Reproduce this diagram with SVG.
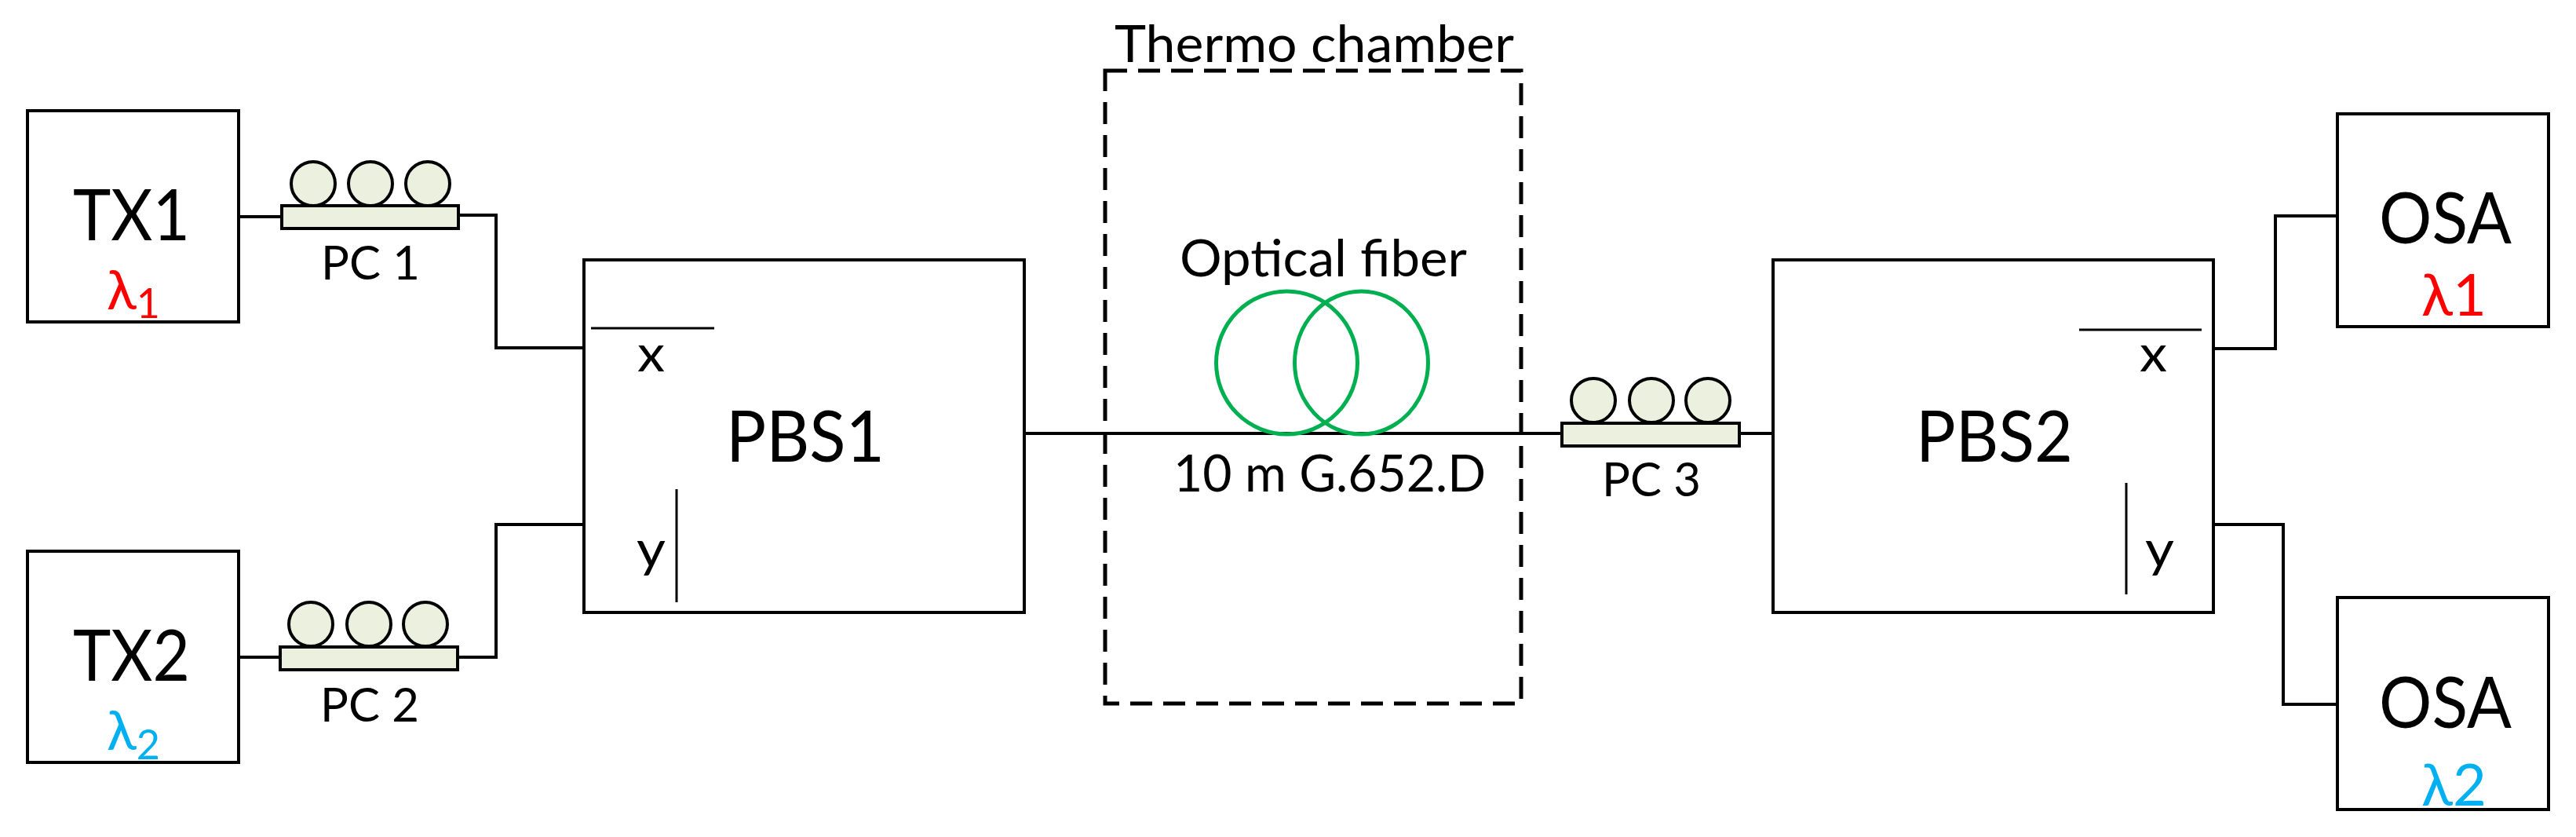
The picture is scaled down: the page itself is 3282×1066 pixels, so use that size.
<svg xmlns="http://www.w3.org/2000/svg" width="3282" height="1066" viewBox="0 0 3282 1066">
<style>
.box{fill:#fff;stroke:#000;stroke-width:4}
.pc{fill:#EBF1DE;stroke:#000;stroke-width:4}
.wire{fill:none;stroke:#000;stroke-width:4}
.thin{fill:none;stroke:#000;stroke-width:3}
.fib{fill:none;stroke:#00B050;stroke-width:5}
text{font-family:"Lato","Open Sans","Noto Sans",sans-serif;fill:#000}
.xl{font-size:92px}
.md{font-size:65px}
.sm{font-size:60px}
.lam{font-size:70px}
.lam2{font-size:74px}
.red{fill:#FF0000}
.blue{fill:#00B0F0}
</style>
<rect width="3282" height="1066" fill="#fff"/>
<g id="connectors">
<path class="wire" d="M304 276H359"/>
<path class="wire" d="M584 274H632V443H744"/>
<path class="wire" d="M304 837H357"/>
<path class="wire" d="M583 837H632V668H744"/>
<path class="wire" d="M1305 552H1990"/>
<path class="wire" d="M2216 552H2259"/>
<path class="wire" d="M2820 444H2899V275H2978"/>
<path class="wire" d="M2820 668H2909V897H2978"/>
</g>
<g id="tx1"><rect class="box" x="35" y="141" width="269" height="269"/>
<text class="xl" x="93" y="306" textLength="149" lengthAdjust="spacingAndGlyphs">TX1</text>
<text class="lam red" x="136" y="394">λ<tspan font-size="52" dy="11">1</tspan></text></g>
<g id="tx2"><rect class="box" x="35" y="702" width="269" height="269"/>
<text class="xl" x="93" y="867" textLength="149" lengthAdjust="spacingAndGlyphs">TX2</text>
<text class="lam blue" x="136" y="955">λ<tspan font-size="52" dy="12">2</tspan></text></g>
<g id="pc1">
<ellipse class="pc" cx="399" cy="234" rx="28" ry="28"/><ellipse class="pc" cx="472" cy="234" rx="28" ry="28"/><ellipse class="pc" cx="545" cy="234" rx="28" ry="28"/>
<rect class="pc" x="359" y="262" width="225" height="29"/>
<text class="sm" x="409" y="356" textLength="126" lengthAdjust="spacingAndGlyphs">PC 1</text></g>
<g id="pc2">
<ellipse class="pc" cx="396" cy="795" rx="28" ry="28"/><ellipse class="pc" cx="470" cy="795" rx="28" ry="28"/><ellipse class="pc" cx="542" cy="795" rx="28" ry="28"/>
<rect class="pc" x="357" y="824" width="226" height="29"/>
<text class="sm" x="408" y="919" textLength="126" lengthAdjust="spacingAndGlyphs">PC 2</text></g>
<g id="pbs1"><rect class="box" x="744" y="331" width="561" height="449"/>
<path class="thin" d="M753 418H910M862 623V767"/>
<text class="md" x="812" y="473" textLength="35" lengthAdjust="spacingAndGlyphs">x</text>
<text class="md" x="811" y="722" textLength="37" lengthAdjust="spacingAndGlyphs">y</text>
<text class="xl" x="925" y="588" textLength="202" lengthAdjust="spacingAndGlyphs">PBS1</text></g>
<g id="thermo"><rect x="1408" y="90" width="530" height="806" fill="none" stroke="#000" stroke-width="5" stroke-dasharray="28 14"/>
<text class="md" x="1420" y="79" textLength="509" lengthAdjust="spacingAndGlyphs">Thermo chamber</text></g>
<g id="fiber">
<ellipse class="fib" cx="1639.5" cy="462" rx="90" ry="91"/>
<ellipse class="fib" cx="1734.5" cy="462" rx="85" ry="91"/>
<text class="md" x="1503" y="352" textLength="366" lengthAdjust="spacingAndGlyphs">Optical fiber</text>
<text class="md" x="1495" y="626" textLength="398" lengthAdjust="spacingAndGlyphs">10 m G.652.D</text></g>
<g id="pc3">
<ellipse class="pc" cx="2030" cy="510" rx="28" ry="28"/><ellipse class="pc" cx="2104" cy="510" rx="28" ry="28"/><ellipse class="pc" cx="2176" cy="510" rx="28" ry="28"/>
<rect class="pc" x="1990" y="539" width="226" height="29"/>
<text class="sm" x="2041" y="632" textLength="126" lengthAdjust="spacingAndGlyphs">PC 3</text></g>
<g id="pbs2"><rect class="box" x="2259" y="331" width="561" height="449"/>
<path class="thin" d="M2649 420H2805M2709 615V757"/>
<text class="md" x="2726" y="473" textLength="35" lengthAdjust="spacingAndGlyphs">x</text>
<text class="md" x="2733" y="722" textLength="37" lengthAdjust="spacingAndGlyphs">y</text>
<text class="xl" x="2441" y="588" textLength="200" lengthAdjust="spacingAndGlyphs">PBS2</text></g>
<g id="osa1"><rect class="box" x="2978" y="145" width="269" height="271"/>
<text class="xl" x="3031" y="310" textLength="169" lengthAdjust="spacingAndGlyphs">OSA</text>
<text class="lam2 red" x="3085" y="402">λ1</text></g>
<g id="osa2"><rect class="box" x="2978" y="761" width="269" height="270"/>
<text class="xl" x="3031" y="927" textLength="169" lengthAdjust="spacingAndGlyphs">OSA</text>
<text class="lam2 blue" x="3085" y="1026">λ2</text></g>
</svg>
